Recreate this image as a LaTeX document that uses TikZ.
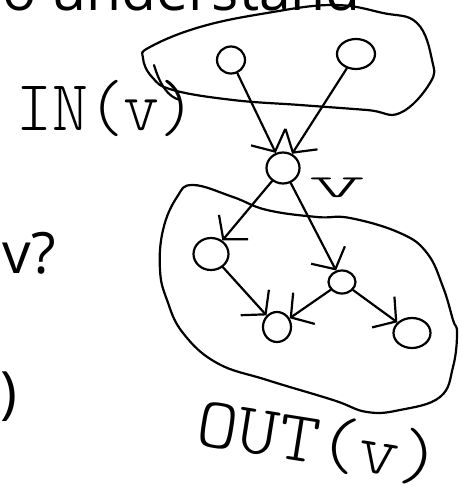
\documentclass[tikz,border=0pt]{standalone}
\usepackage{fontspec}
\usepackage{tikz}
\usetikzlibrary{arrows.meta,positioning,calc,shapes.geometric}
\newfontfamily\slidefont{Open Sans}
\definecolor{ink}{RGB}{0,0,0}

\begin{document}
\begin{tikzpicture}[x=1pt,y=-1pt,
    pen/.style={ink,line width=2.2pt,line cap=round,line join=round},
    vertex/.style={pen,draw,ellipse,inner sep=0pt},
    harrow/.style={pen,-{Straight Barb[length=16pt,width=38pt,line width=2.2pt]}},
    slide/.style={font=\slidefont\fontsize{57}{62}\selectfont,inner sep=0pt},
    hand/.style={font=\ttfamily\fontseries{l}\fontsize{72}{78}\selectfont,inner sep=0pt}]

    \useasboundingbox (0,0) rectangle (469,496);

    % Slide text behind the sketch
    \node[slide,anchor=base east] (title) at (361,10) {o understand};
    \node[slide,anchor=base west] (ask) at (2,273) {v?};
    \node[slide,anchor=base west] (paren) at (0,412) {)};

    % In-neighbourhood blob
    \draw[pen] plot[smooth cycle,tension=0.7] coordinates {
        (150,47) (200,27) (267,13) (333,5) (383,13) (417,23) (432,60)
        (430,83) (400,113) (367,110) (300,105) (233,100) (173,90)
        (152,77) (143,58)};
    \draw[pen] (154,65) .. controls (160,85) and (168,97) .. (180,100);

    % Out-neighbourhood blob
    \draw[pen] plot[smooth cycle,tension=0.7] coordinates {
        (193,185) (233,197) (267,210) (317,217) (350,218) (400,233)
        (427,253) (443,287) (453,320) (457,333) (453,367) (440,397)
        (400,410) (367,412) (333,400) (267,380) (217,363) (183,333)
        (167,300) (160,270) (163,230) (177,197)};

    % Vertices
    \node[vertex,minimum width=28pt,minimum height=27pt] (inA) at (231,60) {};
    \node[vertex,minimum width=38pt,minimum height=30pt] (inB) at (356,54) {};
    \node[vertex,minimum width=33pt,minimum height=31pt] (v) at (283,168) {};
    \node[vertex,minimum width=35pt,minimum height=32pt] (outA) at (211,254) {};
    \node[vertex,minimum width=27pt,minimum height=23pt] (outB) at (342,282) {};
    \node[vertex,minimum width=28pt,minimum height=30pt] (outC) at (277,327) {};
    \node[vertex,minimum width=37pt,minimum height=30pt] (outD) at (412,333) {};

    % Edges
    \draw[harrow] (inA) -- (v);
    \draw[harrow] (inB) -- (v);
    \draw[harrow] (v) -- (outA);
    \draw[harrow] (v) -- (outB);
    \draw[harrow] (outA) -- (outC);
    \draw[harrow] (outB) -- (outC);
    \draw[harrow] (outB) -- (outD);

    % Handwritten labels
    \node[hand,anchor=base west,xscale=0.95] (inlabel) at (16,130) {IN(v)};
    \node[hand,anchor=base west,xscale=2.4,font=\ttfamily\fontseries{l}\fontsize{46}{50}\selectfont] (vlabel) at (308,197) {v};
    \node[hand,rotate=-9,xscale=1.08] (outlabel) at (319,442) {OUT(v)};

\end{tikzpicture}
\end{document}
